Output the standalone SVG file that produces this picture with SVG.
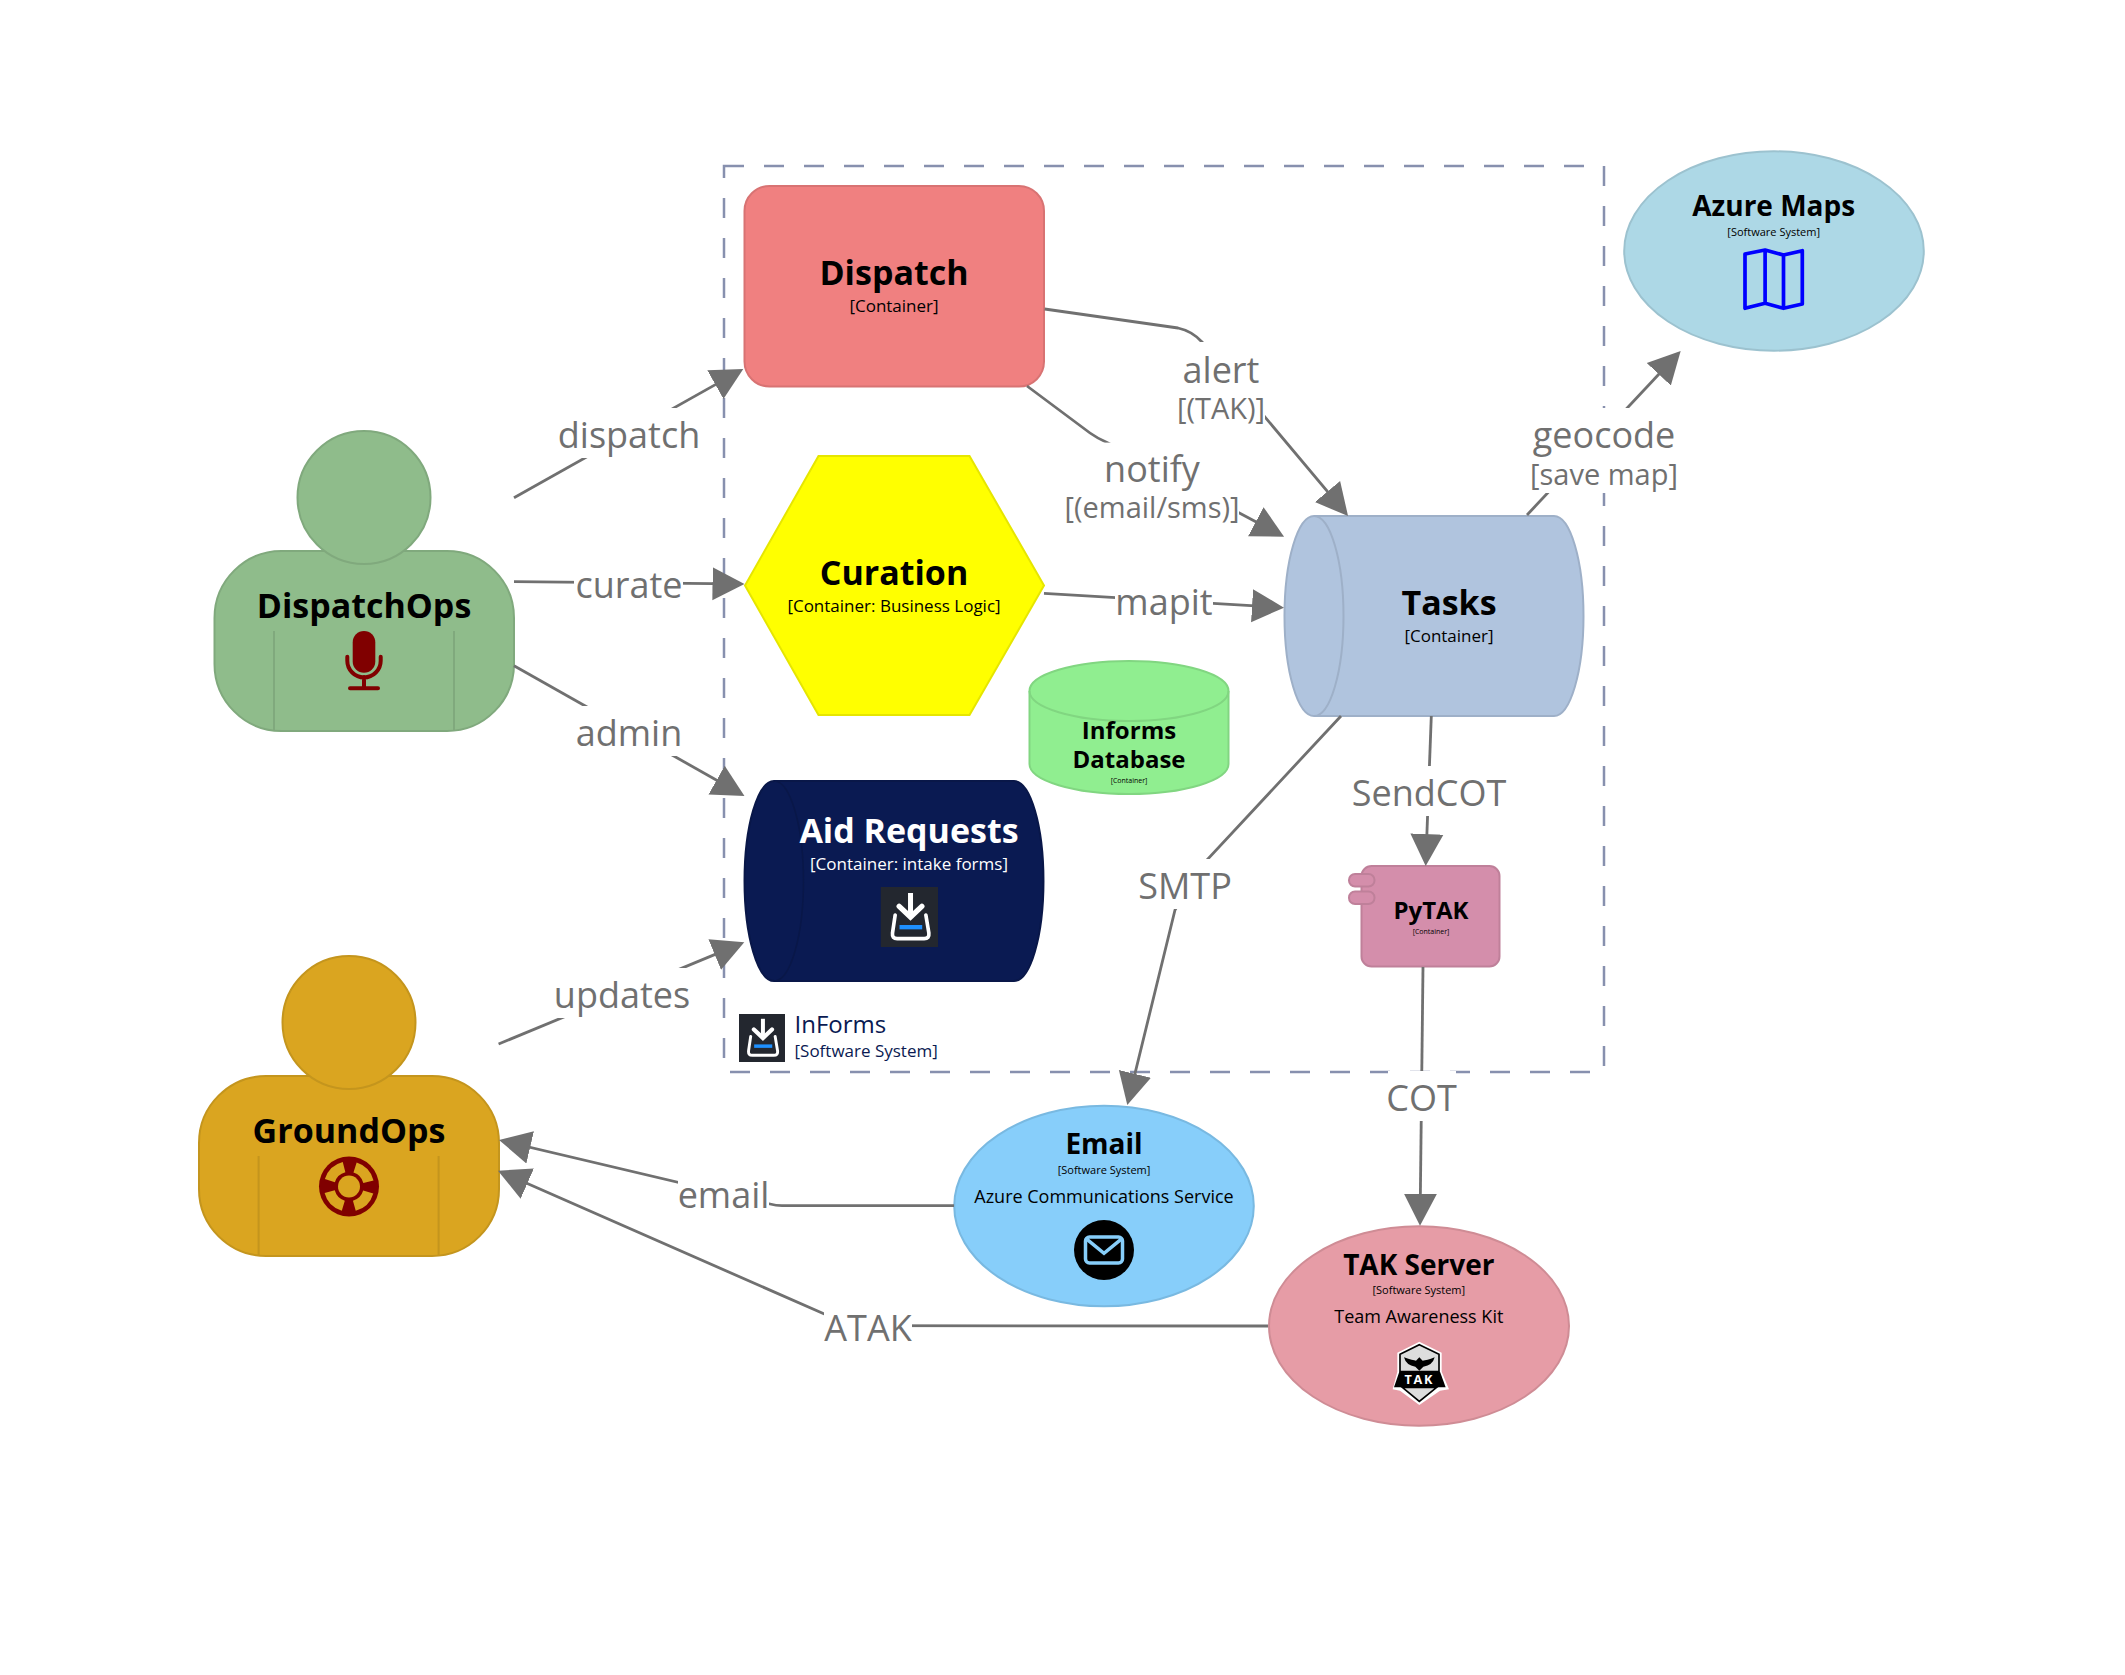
<svg xmlns="http://www.w3.org/2000/svg" width="2125" height="1675" viewBox="0 0 2125 1675">
<style>
text{font-family:"Open Sans","Noto Sans","Liberation Sans",sans-serif;text-anchor:middle;fill:#000}
.name{font-size:34px;font-weight:700}
.name28{font-size:28px;font-weight:700}
.name24{font-size:24px;font-weight:700}
.meta{font-size:17px}
.meta11{font-size:11px}
.meta7{font-size:7px}
.desc{font-size:18px}
.wht{fill:#fff}
.lbl{font-size:36px;fill:#707070}
.sub{font-size:29px;fill:#707070}
.edge{fill:none;stroke:#707070;stroke-width:2.8;marker-end:url(#arrow)}
.bg{fill:#fff}
</style>
<defs>
<marker id="arrow" markerUnits="userSpaceOnUse" markerWidth="36" markerHeight="36" viewBox="0 0 36 36" refX="24" refY="18" orient="auto">
<path d="M0 1.500L32 18L0 34.500Z" fill="#707070"/>
</marker>
<symbol id="informs-icon" viewBox="0 0 173 180" preserveAspectRatio="none">
<rect width="173" height="180" fill="#23272f"/>
<path d="M90 18V80" stroke="#fff" stroke-width="15" fill="none"/>
<path d="M56 58L90 90L124 58" stroke="#fff" stroke-width="16" fill="none" stroke-linecap="round"/>
<path d="M44 84L36 138Q34 155 50 155H131Q147 155 145 138L136 84" stroke="#fff" stroke-width="11" fill="none" stroke-linecap="round"/>
<rect x="57" y="114" width="68" height="13" fill="#1e90ff"/>
</symbol>
</defs>
<rect width="2125" height="1675" fill="#fff"/>
<g id="boundary">
<rect x="724" y="166" width="880" height="906" fill="none" stroke="#8790ae" stroke-width="2.500" stroke-dasharray="20 20"/>
<use href="#informs-icon" x="739" y="1014" width="46" height="48"/>
<text x="794.500" y="1033" style="text-anchor:start;font-size:24px;fill:#0a1a52">InForms</text>
<text x="794.500" y="1056.500" style="text-anchor:start;font-size:17px;fill:#0a1a52">[Software System]</text>
</g>
<g id="dispatchops" fill="#8fbc8b" stroke="#80a97d" stroke-width="2">
<rect x="214.500" y="551" width="299.500" height="180" rx="67" ry="67"/>
<path d="M274 631V731M454 631V731" fill="none"/>
<circle cx="364" cy="497.500" r="66.500"/>
<text x="364" y="617.500" class="name" stroke="none">DispatchOps</text>
<g stroke="#800000" fill="none" stroke-width="4" stroke-linecap="round">
<rect x="352.700" y="631" width="22.600" height="41.700" rx="11.300" fill="#800000" stroke="none"/>
<path d="M347.300 656.700v4a16.700 16.700 0 0 0 33.400 0v-4M364 677V688M350 688.300H378"/>
</g>
</g>
<g id="groundops" fill="#daa520" stroke="#c4951d" stroke-width="2">
<rect x="199" y="1076" width="300" height="180" rx="67" ry="67"/>
<path d="M258.600 1156V1256M438.600 1156V1256" fill="none"/>
<circle cx="349" cy="1022.500" r="66.500"/>
<text x="349" y="1142.500" class="name" stroke="none">GroundOps</text>
<circle cx="349" cy="1186.500" r="30" fill="#800000" stroke="none"/>
<circle cx="349" cy="1186.500" r="20" fill="none" stroke="#daa520" stroke-width="10.500" stroke-dasharray="20.250 11.166" transform="rotate(16 349 1186.500)"/>
<circle cx="349" cy="1186.500" r="11" fill="#daa520" stroke="none"/>
</g>
<g id="dispatch">
<rect x="744.500" y="186" width="299.500" height="200.500" rx="25" fill="#f08080" stroke="#d87373" stroke-width="2"/>
<text x="894" y="285" class="name">Dispatch</text>
<text x="894" y="311.600" class="meta">[Container]</text>
</g>
<g id="curation">
<polygon points="745,585.500 818.500,456 969.500,456 1044,585.500 969.500,715 818.500,715" fill="#ff0" stroke="#e6e600" stroke-width="2"/>
<text x="894" y="585" class="name">Curation</text>
<text x="894" y="611.600" class="meta">[Container: Business Logic]</text>
</g>
<g id="aid-requests">
<path d="M774 781H1014A29.500 100 0 0 1 1014 981H774A29.500 100 0 0 1 774 781Z" fill="#0a1a52" stroke="#091748" stroke-width="2"/>
<path d="M774 781A29.500 100 0 0 1 774 981" fill="none" stroke="#091748" stroke-width="1.500"/>
<text x="909" y="843" class="name wht">Aid Requests</text>
<text x="909" y="869.500" class="meta wht">[Container: intake forms]</text>
<use href="#informs-icon" x="880.500" y="887" width="57.700" height="60"/>
</g>
<g id="tasks">
<path d="M1314 516H1554A29.500 100 0 0 1 1554 716H1314A29.500 100 0 0 1 1314 516Z" fill="#b0c4de" stroke="#9eb0c8" stroke-width="2"/>
<path d="M1314 516A29.500 100 0 0 1 1314 716" fill="none" stroke="#9eb0c8" stroke-width="2"/>
<text x="1449" y="615.300" class="name">Tasks</text>
<text x="1449" y="641.600" class="meta">[Container]</text>
</g>
<g id="informs-database">
<path d="M1029.500 691V764A99.500 30 0 0 0 1228.500 764V691A99.500 30 0 0 0 1029.500 691Z" fill="#90ee90" stroke="#81d681" stroke-width="2"/>
<path d="M1029.500 691A99.500 30 0 0 0 1228.500 691" fill="none" stroke="#81d681" stroke-width="2"/>
<text x="1129" y="738.600" class="name24">Informs</text>
<text x="1129" y="767.500" class="name24">Database</text>
<text x="1129" y="783" class="meta7">[Container]</text>
</g>
<g id="pytak">
<rect x="1361.500" y="866" width="138" height="100.500" rx="10" fill="#d48eab" stroke="#bf809a" stroke-width="2"/>
<rect x="1349" y="874" width="25.500" height="12.500" rx="6" fill="#d48eab" stroke="#bf809a" stroke-width="2"/>
<rect x="1349" y="891.500" width="25.500" height="12.500" rx="6" fill="#d48eab" stroke="#bf809a" stroke-width="2"/>
<text x="1431" y="919" class="name24">PyTAK</text>
<text x="1431" y="934" class="meta7">[Container]</text>
</g>
<g id="azure-maps">
<ellipse cx="1774" cy="251" rx="149.800" ry="99.700" fill="#add8e6" stroke="#9cc2cf" stroke-width="2"/>
<text x="1773.700" y="216" class="name28">Azure Maps</text>
<text x="1773.700" y="236" class="meta11">[Software System]</text>
<path d="M1745 254L1765.100 250L1783.500 255L1802.300 250.700V304L1783.500 308.300L1765.100 303.300L1745 308.300ZM1765.100 250V303.300M1783.500 255V308.300" fill="none" stroke="#00f" stroke-width="3.700" stroke-linejoin="round"/>
</g>
<g id="email">
<ellipse cx="1104" cy="1206" rx="149.800" ry="100.200" fill="#87cefa" stroke="#79b9e1" stroke-width="2"/>
<text x="1104" y="1153.600" class="name28">Email</text>
<text x="1104" y="1174.200" class="meta11">[Software System]</text>
<text x="1104" y="1203" class="desc">Azure Communications Service</text>
<circle cx="1104" cy="1250" r="30"/>
<rect x="1085.500" y="1237" width="37" height="26" rx="4" fill="none" stroke="#87cefa" stroke-width="3.500"/>
<path d="M1087 1239.300L1104 1253.300L1121 1239.300" fill="none" stroke="#87cefa" stroke-width="3.500"/>
</g>
<g id="tak-server">
<ellipse cx="1419" cy="1326" rx="150" ry="99.700" fill="#e69ca6" stroke="#cf8c95" stroke-width="2"/>
<text x="1418.800" y="1275" class="name28">TAK Server</text>
<text x="1418.800" y="1294.200" class="meta11">[Software System]</text>
<text x="1418.800" y="1322.500" class="desc">Team Awareness Kit</text>
<g transform="translate(1380 1330) scale(.33333)">
<path d="M118 35L185 68V125L207 178L180 182L118 225L60 182L38 178L52 125V68Z" fill="#fff"/>
<path d="M118 44L177 73V125H60V73ZM67 172H170L118 214Z" fill="#ddd" stroke="#000" stroke-width="5"/>
<path d="M58 125H180L197 172H42Z" fill="#000"/>
<path d="M72 82Q100 92 108 92L118 82L128 92Q140 92 164 82Q158 106 130 110L118 122L106 110Q78 106 72 82Z" fill="#000"/>
<text x="118" y="161" style="font-size:38px;font-weight:700;fill:#fff;letter-spacing:5px">TAK</text>
</g>
</g>
<g id="connectors">
<path class="edge" d="M514 497.700L736.300 372.900"/>
<rect class="bg" x="557" y="408" width="143" height="50"/>
<text x="629" y="447.800" class="lbl">dispatch</text>
<path class="edge" d="M514 581.700L736.500 583.900"/>
<rect class="bg" x="574" y="559" width="109" height="50"/>
<text x="629" y="597.600" class="lbl">curate</text>
<path class="edge" d="M514 665.700L737.500 792"/>
<rect class="bg" x="574" y="706" width="109" height="50"/>
<text x="629" y="745.500" class="lbl">admin</text>
<path class="edge" d="M498.600 1044L736.900 945.400"/>
<rect class="bg" x="555" y="968" width="134" height="50"/>
<text x="622" y="1007.500" class="lbl">updates</text>
<path class="edge" d="M1044.600 309L1178 328Q1192 331 1202 342L1342.900 509.900"/>
<rect class="bg" x="1178" y="342" width="87" height="87"/>
<text x="1221" y="382.800" class="lbl">alert</text>
<text x="1221" y="419.300" class="sub">[(TAK)]</text>
<path class="edge" d="M1027 386L1090 433Q1097 438 1107 442.600L1277 533"/>
<rect class="bg" x="1066" y="442.600" width="173" height="86"/>
<text x="1152" y="481.500" class="lbl">notify</text>
<text x="1152" y="517.700" class="sub">[(email/sms)]</text>
<path class="edge" d="M1044 593.300L1276 607.200"/>
<rect class="bg" x="1115" y="576" width="98" height="50"/>
<text x="1164" y="615" class="lbl">mapit</text>
<path class="edge" d="M1527 515L1675.200 356.800"/>
<rect class="bg" x="1531" y="408" width="146" height="85"/>
<text x="1604" y="447.500" class="lbl">geocode</text>
<text x="1604" y="485" class="sub">[save map]</text>
<path class="edge" d="M1431.300 716L1426 858"/>
<rect class="bg" x="1352" y="766" width="154" height="50"/>
<text x="1429" y="805.500" class="lbl">SendCOT</text>
<path class="edge" d="M1423 967L1420.100 1217.700"/>
<rect class="bg" x="1388" y="1071" width="68" height="50"/>
<text x="1421.500" y="1110.700" class="lbl">COT</text>
<path class="edge" d="M1341 716L1205 862L1175 910L1129.200 1097.200"/>
<rect class="bg" x="1139" y="859" width="92" height="50"/>
<text x="1185" y="898.800" class="lbl">SMTP</text>
<path class="edge" d="M954 1205.700L782 1205.700Q776 1205.700 770 1204L506.800 1141.800"/>
<rect class="bg" x="678" y="1169" width="91" height="50"/>
<text x="723.500" y="1208.300" class="lbl">email</text>
<path class="edge" d="M1268 1326L851 1325.700L505.300 1173.900"/>
<rect class="bg" x="824" y="1301" width="88" height="50"/>
<text x="868" y="1340.500" class="lbl">ATAK</text>
</g>
</svg>
